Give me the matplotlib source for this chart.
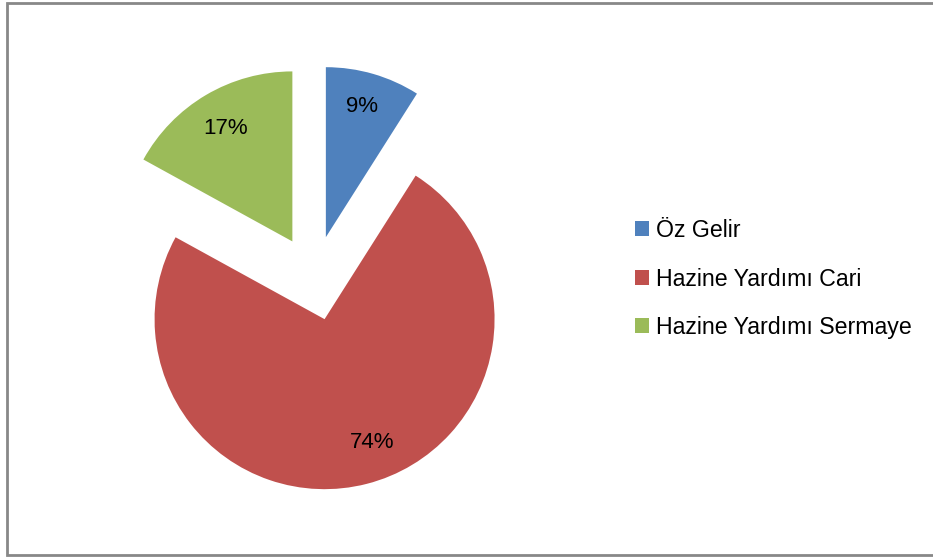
import matplotlib.pyplot as plt
from matplotlib.patches import Rectangle, Patch

# data
labels = ["Öz Gelir", "Hazine Yardımı Cari", "Hazine Yardımı Sermaye"]
shares = [9, 74, 17]
colors = ["#4F81BD", "#C0504D", "#9BBB59"]

W, H = 933, 558
cx, cy, R = 314, 278, 170   # pie centre / radius in pixels

plt.rcParams['font.family'] = ['Liberation Sans', 'DejaVu Sans']

fig = plt.figure(figsize=(W / 100, H / 100), dpi=100)
ax = fig.add_axes([0, 0, 1, 1])

wedges, texts, autotexts = ax.pie(
    shares, colors=colors, explode=[0.25] * len(shares), startangle=90,
    counterclock=False, autopct='%1.0f%%', pctdistance=0.77,
    textprops={'fontsize': 16, 'color': 'black'})

# Excel puts the big slice's label a bit off the mid-angle
x, y = autotexts[1].get_position()
autotexts[1].set_position((x + 0.09, y + 0.02))
x, y = autotexts[0].get_position()
autotexts[0].set_position((x, y + 0.03))

# pixel -> data scale (radius = 1)
ax.set_xlim(-cx / R, (W - cx) / R)
ax.set_ylim(-(H - cy) / R, cy / R)
ax.set_aspect('equal')
ax.axis('off')

# chart border
fig.patches.append(Rectangle((6.5 / W, 3 / H), (W - 6) / W, (H - 5.5) / H,
                             transform=fig.transFigure, fill=False,
                             edgecolor='#888888', linewidth=2))

handles = [Patch(facecolor=c, edgecolor='none') for c in colors]
fig.legend(handles, labels, loc='center left', bbox_to_anchor=(614 / W, 1 - 279 / H),
           frameon=False, fontsize=16.7, handlelength=0.6, handleheight=0.6,
           handletextpad=0.3, labelspacing=1.1)

fig.savefig('out.png', dpi=100)
